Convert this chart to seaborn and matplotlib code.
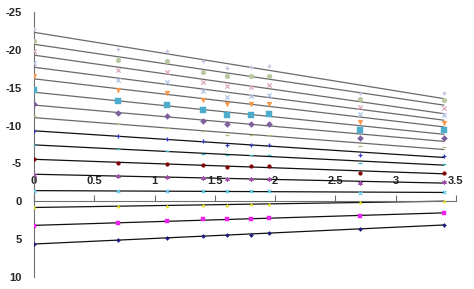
import matplotlib
matplotlib.use("Agg")
import matplotlib.pyplot as plt
import seaborn as sns
import pandas as pd

# ---- data ----
x_vals = [0, 0.7, 1.1, 1.4, 1.6, 1.8, 1.95, 2.7, 3.4]

s1 = [5.6, 5.1, 4.85, 4.6, 4.5, 4.4, 4.2, 3.6, 3.1]
s2 = [3.2, 2.9, 2.65, 2.4, 2.4, 2.3, 2.15, 2.0, 1.5]
s3 = [0.75, 0.66, 0.6, 0.53, 0.45, 0.4, 0.3, 0.1, 0.0]
s4 = [-1.4, -1.4, -1.3, -1.3, -1.3, -1.3, -1.3, -1.15, -1.2]
s5 = [-3.5, -3.4, -3.2, -3.1, -3.0, -3.0, -3.0, -2.4, -2.5]
s6 = [-5.6, -5.1, -4.9, -4.8, -4.5, -4.6, -4.6, -3.8, -3.75]
s7 = [-7.5, -6.9, -6.6, -6.2, -6.1, -6.1, -6.1, -5.1, -4.9]
s8 = [-9.3, -8.6, -8.2, -7.9, -7.5, -7.5, -7.5, -6.1, -6.0]
s9 = [-11.2, -10.2, -9.7, -9.3, -8.8, -8.8, -8.8, -7.3, -7.2]
s10 = [-12.9, -11.6, -11.3, -10.6, -10.2, -10.2, -10.2, -8.4, -8.3]
s11 = [-14.7, -13.2, -12.7, -12.0, -11.4, -11.4, -11.5, -9.4, -9.4]
s12 = [-16.5, -14.7, -14.3, -13.4, -12.8, -12.8, -12.8, -10.5, -10.4]
s13 = [-18.2, -16.0, -15.7, -14.6, -13.8, -13.9, -14.1, -11.5, -11.4]
s14 = [-19.8, -17.4, -17.1, -15.8, -15.2, -15.1, -15.3, -12.4, -12.3]
s15 = [-21.2, -18.7, -18.5, -17.1, -16.5, -16.5, -16.6, -13.5, -13.4]
s16 = [-22.7, -20.1, -19.9, -18.5, -17.6, -17.8, -17.9, -14.3, -14.3]

series_values = [s1, s2, s3, s4, s5, s6, s7, s8, s9, s10, s11, s12, s13, s14, s15, s16]
series_names = [f"Series{i}" for i in range(1, 17)]

x_ticks = [0, 0.5, 1, 1.5, 2, 2.5, 3, 3.5]
x_tick_labels = ["0", "0.5", "1", "1.5", "2", "2.5", "3", "3.5"]
y_ticks = [-25, -20, -15, -10, -5, 0, 5, 10]
y_tick_labels = ["-25", "-20", "-15", "-10", "-5", "0", "5", "10"]

# ---- styles ----
colors = ["#1a1a80", "#ee22ee", "#e8e020", "#66ccee", "#a050a8", "#800000",
          "#30b0c0", "#3838c0", "#b8b878", "#7d5fa0", "#4baccc", "#f79646",
          "#b4c6ea", "#e0aac4", "#b8c8a0", "#c8c0e0"]
markers = ["D", "s", "^", "x", (6, 2, 0), "o", "_", "+",
           "_", "D", "s", "v", "x", "x", "o", "+"]
sizes = [4, 8, 5, 6, 6, 7, 8, 6, 10, 9, 14, 12, 10, 10, 12, 12]
line_colors = ["#111111"] * 8 + ["#6a6a6a"] * 8

df = pd.DataFrame({
    "x": x_vals * len(series_values),
    "y": [v for s in series_values for v in s],
    "series": [n for n in series_names for _ in x_vals],
})

plt.rcParams["axes.unicode_minus"] = False
sns.set_style("white")
plt.rcParams["font.family"] = ["Liberation Sans", "DejaVu Sans"]

fig = plt.figure(figsize=(4.74, 2.89), dpi=100)
ax = fig.add_axes([34 / 474, 12 / 289, 422 / 474, 265 / 289])

for i, name in enumerate(series_names):
    d = df[df["series"] == name]
    sns.regplot(data=d, x="x", y="y", ax=ax, scatter=False, ci=None,
                truncate=True, line_kws={"color": line_colors[i], "lw": 0.9, "zorder": 2})
for i, name in enumerate(series_names):
    d = df[df["series"] == name]
    m = markers[i]
    line_marker = m in ("x", "+", "_") or isinstance(m, tuple)
    kws = dict(marker=m, s=sizes[i], color=colors[i], zorder=3, legend=False)
    if line_marker:
        kws["linewidth"] = 0.9
    else:
        kws["edgecolor"] = colors[i]
        kws["linewidth"] = 0.3
    sns.scatterplot(data=d, x="x", y="y", ax=ax, **kws)

ax.set_xlim(0, 3.5)
ax.set_ylim(10, -25)
ax.set_xlabel("")
ax.set_ylabel("")

for side in ["right", "bottom"]:
    ax.spines[side].set_visible(False)
ax.spines["top"].set_position(("data", 0))
ax.spines["left"].set_position(("data", 0))
for side in ["top", "left"]:
    ax.spines[side].set_color("#707070")
    ax.spines[side].set_linewidth(0.8)

ax.xaxis.set_ticks_position("top")
ax.set_xticks(x_ticks)
ax.set_xticklabels(x_tick_labels)
ax.set_yticks(y_ticks)
ax.set_yticklabels(y_tick_labels)
ax.tick_params(axis="x", direction="out", length=4, width=0.8, color="#707070",
               pad=7, labelsize=8)
ax.tick_params(axis="y", direction="out", length=4, width=0.8, color="#707070",
               pad=5, labelsize=8)
for lab in ax.get_xticklabels() + ax.get_yticklabels():
    lab.set_fontweight("bold")

fig.savefig("out.png", dpi=100, facecolor="white")
